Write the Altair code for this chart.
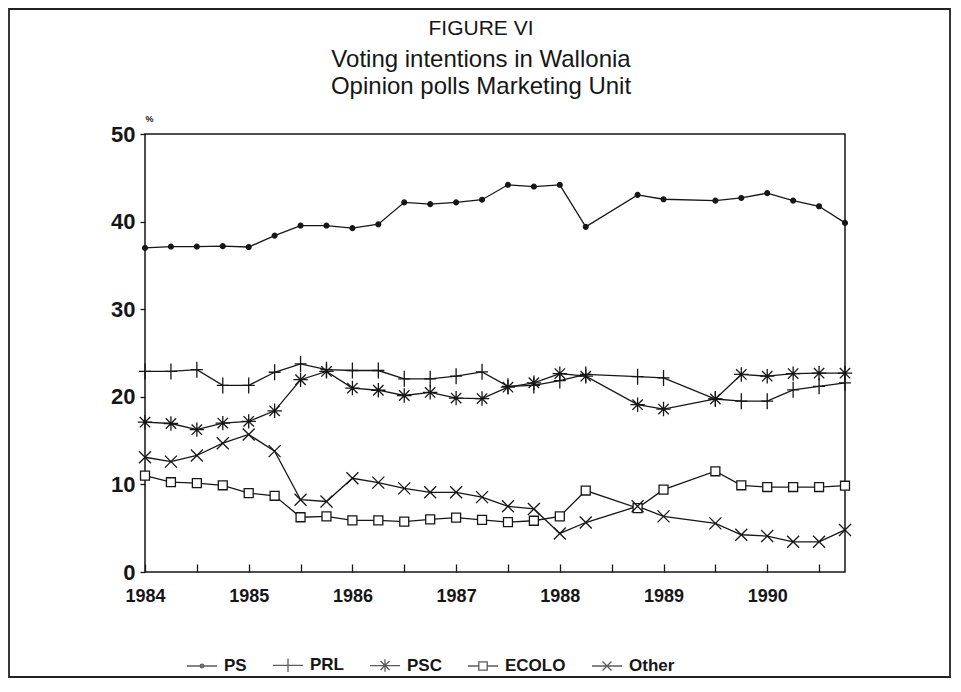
import altair as alt
import pandas as pd

# observation times (quarters; no polls at 1988.5 and 1989.25)
periods = [1984.0, 1984.25, 1984.5, 1984.75, 1985.0, 1985.25, 1985.5, 1985.75,
           1986.0, 1986.25, 1986.5, 1986.75, 1987.0, 1987.25, 1987.5, 1987.75,
           1988.0, 1988.25, 1988.75, 1989.0, 1989.5, 1989.75, 1990.0, 1990.25,
           1990.5, 1990.75]

ps = [37.0, 37.15, 37.15, 37.2, 37.1, 38.4, 39.55, 39.55, 39.25, 39.7, 42.2, 42.0,
      42.2, 42.5, 44.2, 44.0, 44.2, 39.4, 43.05, 42.55, 42.4, 42.7, 43.25, 42.4,
      41.75, 39.85]
prl = [22.9, 22.9, 23.1, 21.3, 21.3, 22.8, 23.75, 23.1, 23.0, 23.0, 22.05, 22.05,
       22.35, 22.85, 21.2, 21.3, 21.85, 22.55, 22.3, 22.15, 19.75, 19.5, 19.5, 20.8,
       21.2, 21.6]
psc = [17.1, 16.95, 16.25, 17.0, 17.2, 18.4, 21.95, 22.9, 21.0, 20.75, 20.15, 20.5,
       19.85, 19.8, 21.1, 21.6, 22.65, 22.35, 19.1, 18.6, 19.75, 22.55, 22.35, 22.65,
       22.7, 22.7]
ecolo = [11.0, 10.25, 10.15, 9.9, 9.0, 8.7, 6.25, 6.35, 5.9, 5.9, 5.75, 6.0, 6.2,
         5.95, 5.7, 5.85, 6.35, 9.3, 7.3, 9.4, 11.5, 9.9, 9.7, 9.7, 9.7, 9.85]
other = [13.1, 12.6, 13.3, 14.7, 15.7, 13.8, 8.25, 8.05, 10.7, 10.2, 9.55, 9.1, 9.1,
         8.55, 7.5, 7.2, 4.4, 5.65, 7.5, 6.35, 5.55, 4.25, 4.1, 3.45, 3.45, 4.8]

series_names = ["PS", "PRL", "PSC", "ECOLO", "Other"]
series_values = [ps, prl, psc, ecolo, other]

year_ticks = [1984 + q / 4 for q in range(28)]
y_ticks = [0, 10, 20, 30, 40, 50]

title_text = "FIGURE VI"
subtitle_lines = ["Voting intentions in Wallonia", "Opinion polls Marketing Unit"]

rows = []
for name, vals in zip(series_names, series_values):
    for t, v in zip(periods, vals):
        rows.append({"t": t, "value": v, "series": name})
df = pd.DataFrame(rows)

BOLD = "Liberation Sans, Arial, Helvetica"
SANS = "Liberation Sans, Arial, Helvetica"
INK = "#161616"

# marker shapes in the plot (unit coords, scaled by sqrt(size)/2)
plot_shapes = [
    "M-0.3,0A0.3,0.3,0,1,0,0.3,0A0.3,0.3,0,1,0,-0.3,0Z",
    "M0,-1V1M-0.75,0H0.75",
    "M0,-0.9V0.9M-0.9,0H0.9M-0.65,-0.65L0.65,0.65M-0.65,0.65L0.65,-0.65",
    "M-0.56,-0.56H0.56V0.56H-0.56Z",
    "M-0.75,-0.75L0.75,0.75M-0.75,0.75L0.75,-0.75",
]
# legend symbols: line with marker
legend_shapes = [
    "M-1,0H1M-0.12,0A0.12,0.12,0,1,0,0.12,0A0.12,0.12,0,1,0,-0.12,0",
    "M-1,0H1M0,-0.45V0.45",
    "M-1,0H1M0,-0.42V0.42M-0.3,-0.3L0.3,0.3M-0.3,0.3L0.3,-0.3",
    "M-1,0H-0.28M0.28,0H1M-0.28,-0.28H0.28V0.28H-0.28Z",
    "M-1,0H1M-0.3,-0.3L0.3,0.3M-0.3,0.3L0.3,-0.3",
]

x_enc = alt.X(
    "t:Q",
    scale=alt.Scale(domain=[1984, 1990.75], nice=False, zero=False),
    axis=alt.Axis(
        values=year_ticks,
        labelExpr="floor(datum.value) == datum.value ? format(datum.value, 'd') : ''",
        title=None, domain=False, grid=False, offset=-8, tickSize=8,
        tickWidth=1.3, tickColor=INK, labelFont=BOLD, labelFontWeight="bold",
        labelFontSize=18, labelColor=INK, labelPadding=15, labelOverlap=False,
        labelFlush=False, labelBound=False,
    ),
)
y_enc = alt.Y(
    "value:Q",
    scale=alt.Scale(domain=[0, 50], nice=False, zero=True),
    axis=alt.Axis(
        values=y_ticks, format="d", title="%", titleAngle=0, titleX=4, titleY=-16,
        titleAlign="center", titleBaseline="middle", titleFontSize=9,
        titleFont=SANS, titleFontWeight="bold", titleColor=INK,
        domain=False, grid=False, tickSize=5, tickWidth=1.3, tickColor=INK,
        labelFont=BOLD, labelFontWeight="bold", labelFontSize=22,
        labelColor=INK, labelPadding=5,
    ),
)

base = alt.Chart(df)

lines = base.mark_line(color=INK, strokeWidth=1.3).encode(
    x=x_enc, y=y_enc, detail="series:N"
)

points = base.mark_point(filled=True, stroke=INK, strokeWidth=1.3, size=256, opacity=1).encode(
    x="t:Q",
    y="value:Q",
    shape=alt.Shape("series:N", scale=alt.Scale(domain=series_names, range=plot_shapes), legend=None),
    fill=alt.Fill("series:N", scale=alt.Scale(domain=series_names, range=[INK, "white", "white", "white", "white"]), legend=None),
)

legend_layer = base.transform_filter("false").mark_point(
    filled=False, color=INK, strokeWidth=1.3, size=900
).encode(
    x="t:Q",
    y="value:Q",
    shape=alt.Shape(
        "series:N",
        scale=alt.Scale(domain=series_names, range=legend_shapes),
        legend=alt.Legend(
            title=None, orient="none", legendX=41, legendY=515, direction="horizontal",
            symbolSize=900, symbolStrokeWidth=1.3, symbolStrokeColor=INK,
            symbolFillColor="transparent", labelFont=BOLD, labelFontWeight="bold",
            labelFontSize=17, labelColor=INK, labelOffset=6, columnPadding=23,
            padding=0, labelLimit=0,
        ),
    ),
)

one = alt.Data(values=[{}])

frame = alt.Chart(one).mark_rect(
    fill="transparent", stroke="#222", strokeWidth=1.8
).encode(
    x=alt.value(-136), x2=alt.value(805), y=alt.value(-125), y2=alt.value(543)
)

title_main = alt.Chart(one).mark_text(
    text=title_text, font=SANS, fontSize=21, color=INK, align="center", baseline="alphabetic"
).encode(x=alt.value(336), y=alt.value(-99))

title_sub1 = alt.Chart(one).mark_text(
    text=subtitle_lines[0], font=SANS, fontSize=24, color=INK, align="center", baseline="alphabetic"
).encode(x=alt.value(336), y=alt.value(-67))

title_sub2 = alt.Chart(one).mark_text(
    text=subtitle_lines[1], font=SANS, fontSize=24, color=INK, align="center", baseline="alphabetic"
).encode(x=alt.value(336), y=alt.value(-40))

chart = alt.layer(
    frame, title_main, title_sub1, title_sub2, lines, points, legend_layer
).resolve_scale(
    shape="independent", fill="independent"
).properties(
    width=700,
    height=438,
    autosize=alt.AutoSizeParams(type="none"),
    padding={"left": 137, "top": 126, "right": 107, "bottom": 106},
).configure_view(stroke=INK, strokeWidth=1.5)

chart.save("out.html", embed_options={"renderer": "svg", "actions": False})
